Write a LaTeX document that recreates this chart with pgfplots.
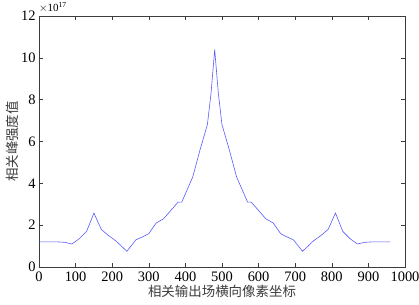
\documentclass[border=0pt]{standalone}
\usepackage{fontspec}
\setmainfont{Liberation Serif}
\newfontfamily\cjk{Noto Sans CJK SC}
\usepackage{pgfplots}
\pgfplotsset{compat=1.18}
\definecolor{lineblue}{RGB}{90,90,255}
\definecolor{axgray}{RGB}{60,60,60}
\begin{document}
\begin{tikzpicture}
\begin{axis}[
  scale only axis,
  clip mode=individual,
  width=366bp, height=251bp,
  xmin=0, xmax=1000, ymin=0, ymax=12,
  xtick={0,100,...,1000},
  ytick={0,2,...,12},
  tick align=inside,
  major tick length=4bp,
  axis line style={axgray, line width=0.5pt},
  every tick/.style={axgray, line width=0.5pt},
  /pgf/number format/assume math mode=true,
  /pgf/number format/1000 sep={},
  tick label style={font=\fontsize{14.5}{16}\selectfont, text=black},
  xticklabel style={yshift=-1bp},
  xlabel={\cjk\fontsize{13.5}{15}\selectfont 相关输出场横向像素坐标},
  ylabel={\cjk\fontsize{13.5}{15}\selectfont 相关峰强度值},
  xlabel style={yshift=3bp, text=axgray},
  ylabel style={yshift=-4bp, text=axgray},
]
\addplot[color=lineblue, line width=0.6pt] coordinates {
(0,1.2) (20,1.2) (50,1.2) (70,1.18) (90,1.1) (110,1.35) (130,1.7) (150,2.58)
(170,1.8) (190,1.5) (210,1.25) (240,0.75) (265,1.3) (290,1.5) (300,1.6)
(320,2.1) (340,2.3) (370,2.9) (380,3.1) (390,3.1) (400,3.5) (420,4.3)
(440,5.6) (460,6.8) (470,8.3) (480,10.4)
(490,8.3) (500,6.8) (520,5.6) (540,4.3) (560,3.5) (570,3.1) (580,3.1)
(590,2.9) (620,2.3) (640,2.1) (660,1.6) (670,1.5) (695,1.3) (720,0.75)
(750,1.25) (770,1.5) (790,1.8) (810,2.58) (830,1.7) (850,1.35) (870,1.1)
(890,1.18) (910,1.2) (940,1.2) (960,1.2)
};
\node[anchor=south west, inner sep=0pt, font=\fontsize{11}{12}\selectfont] at (rel axis cs:0,1) [yshift=3bp] {$\times$10\textsuperscript{17}};
\end{axis}
\pgfresetboundingbox
\path (current axis.south west) ++(-39bp,-38bp) rectangle ++(419bp,305bp);
\end{tikzpicture}
\end{document}
